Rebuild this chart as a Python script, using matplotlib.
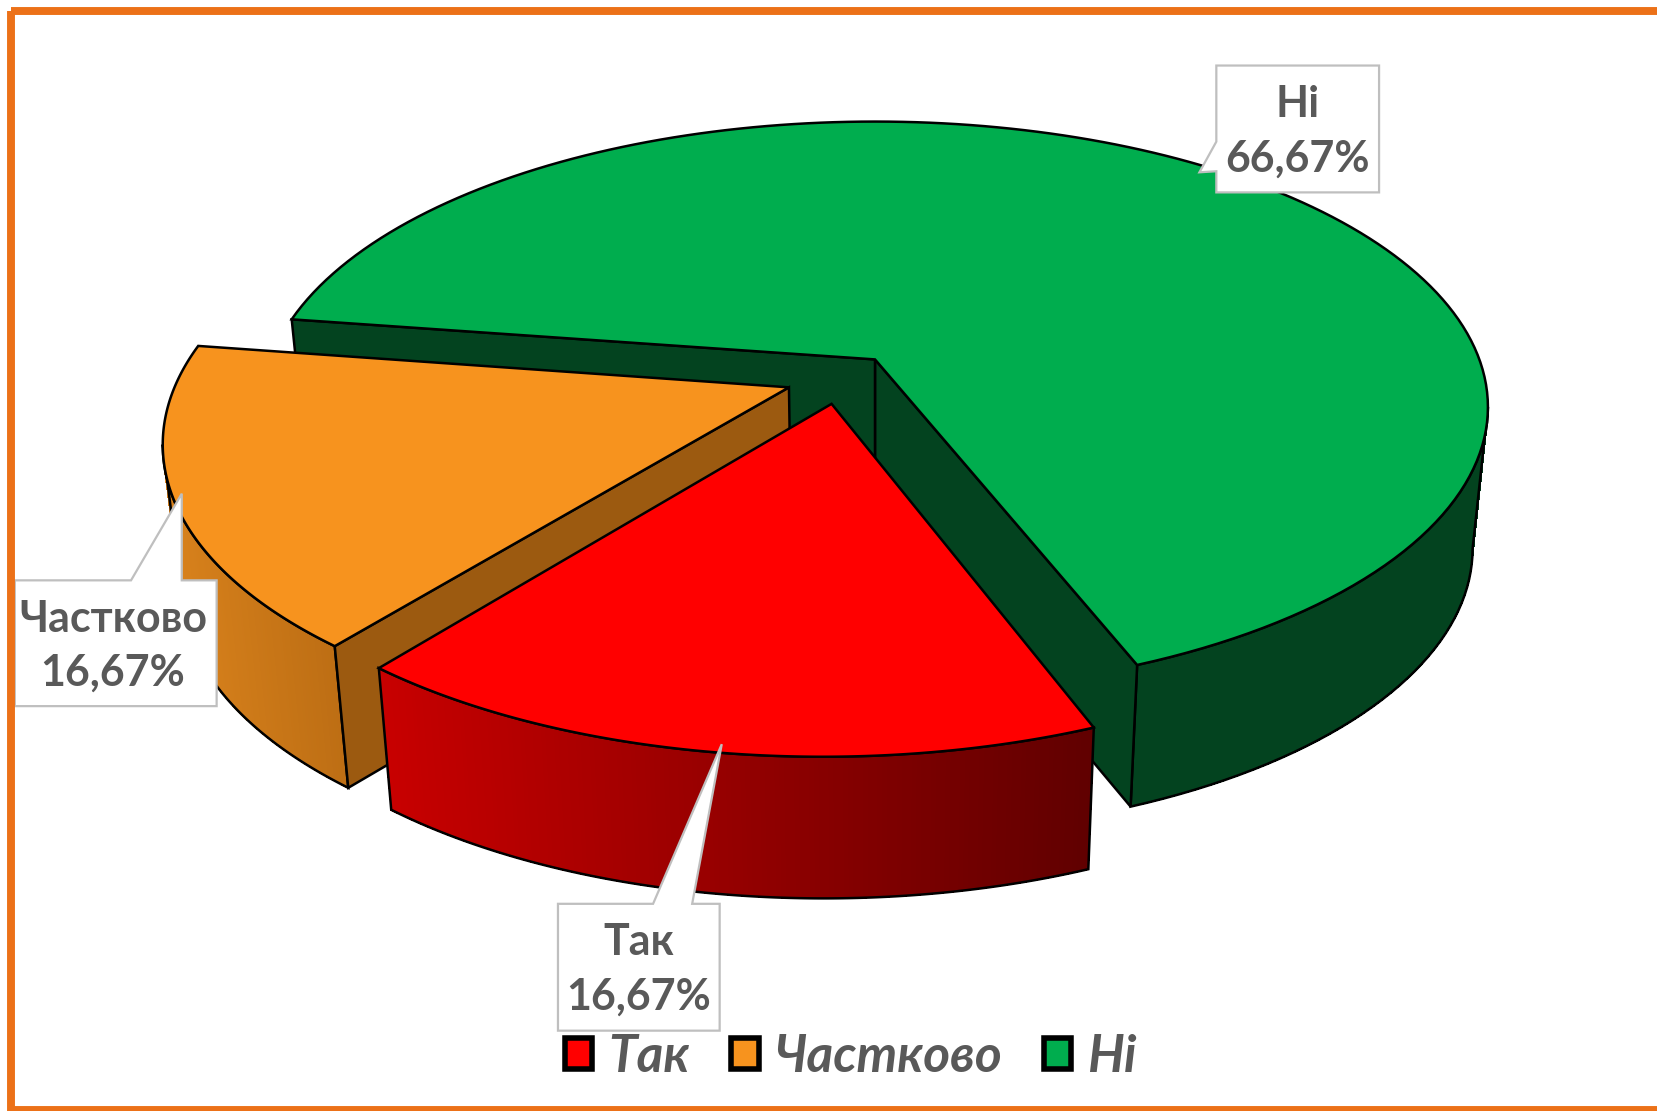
import numpy as np
import matplotlib
matplotlib.use('Agg')
import matplotlib.pyplot as plt
from matplotlib.patches import Polygon, Patch, Rectangle

# Data
categories = ['Так', 'Частково', 'Ні']
shares = [16.67, 16.67, 66.67]
share_labels = ['16,67%', '16,67%', '66,67%']

# Slice colours
top_colors = ['#FF0000', '#F7931E', '#00AD4E']
cut_colors = ['#8A0000', '#9C5A10', '#03431F']
wall_left = ['#C80000', '#D9821C', '#03431F']
wall_right = ['#600000', '#BD6E14', '#03431F']

# Pie geometry, in the units of the axes below
cx, cy = 828, 385
rx, ry = 580, 270
tilt = -1 / 6
start_angle = 158.5
depth = 134
squeeze = 0.975
explode = [(-0.070, 0.156), (-0.140, 0.099), (0.0, 0.0)]

text_color = '#595959'
font = 'Lato'


def project(px, py):
    # perspective of the pie plane, unit circle to the tilted ellipse
    d = 1 + tilt * py
    u = px * np.sqrt(1 - tilt ** 2) / d
    v = (py + tilt) / d
    return cx + rx * u, cy + ry * v


def arc(a0, a1, off):
    t = np.radians(np.linspace(a0, a1, 160))
    return project(off[0] + np.sin(t), off[1] - np.cos(t))


def lower(x, y):
    return cx + (np.asarray(x) - cx) * squeeze, np.asarray(y) + depth


def to_rgb(c):
    return np.array(matplotlib.colors.to_rgb(c))


fig = plt.figure(figsize=(16.57, 11.11), dpi=100)
ax = fig.add_axes([0, 0, 1, 1])
ax.set_xlim(0, 1568)
ax.set_ylim(1051, 0)
ax.axis('off')

# Frame, open on the right
frame = '#EC7118'
ax.add_patch(Rectangle((10.5, 10.5), 1600, 1040, fill=False, edgecolor=frame, lw=5.7, zorder=70))

# angles of each slice from the shares
total = sum(shares)
angles = [start_angle]
for s in shares:
    angles.append(angles[-1] + 360 * s / total)

# the big slice goes first, the exploded ones sit in front of it
z = 2
for i in [2, 1, 0]:
    a0, a1 = angles[i], angles[i + 1]
    off = explode[i]
    x, y = arc(a0, a1, off)
    bx, by = lower(x, y)
    ax0, ay0 = project(off[0], off[1])
    bax, bay = lower(ax0, ay0)

    # part of the outer wall that faces the viewer
    if i == 2:
        keep = np.arange(np.argmax(x), len(x))
    elif i == 1:
        keep = np.arange(0, np.argmin(x) + 1)
    else:
        keep = np.arange(len(x))
    wx, wy, wbx, wby = x[keep], y[keep], bx[keep], by[keep]

    # thin strips for the gradient
    for j in range(len(wx) - 1):
        f = (wx[j] - x.min()) / (x.max() - x.min())
        col = to_rgb(wall_left[i]) * (1 - f) + to_rgb(wall_right[i]) * f
        ax.add_patch(Polygon([(wx[j], wy[j]), (wx[j + 1], wy[j + 1]), (wbx[j + 1], wby[j + 1]), (wbx[j], wby[j])],
                             facecolor=col, edgecolor=col, lw=0.5, antialiased=False, zorder=z))
    z += 1
    ax.add_patch(Polygon(np.r_[np.c_[wx, wy], np.c_[wbx, wby][::-1]], fill=False,
                         edgecolor='black', lw=1.8, zorder=z))
    z += 1

    # cut walls, only those that face the viewer
    if i == 2:
        for k in [-1, 0]:
            ax.add_patch(Polygon([(ax0, ay0), (x[k], y[k]), (bx[k], by[k]), (bax, bay)],
                                 facecolor=cut_colors[i], edgecolor='black', lw=1.8, zorder=z))
            z += 1
    if i == 1:
        ax.add_patch(Polygon([(ax0, ay0), (x[0], y[0]), (bx[0], by[0]), (bax, bay)],
                             facecolor=cut_colors[i], edgecolor='black', lw=1.8, zorder=z))
        z += 1

    # top face
    ax.add_patch(Polygon(np.r_[[(ax0, ay0)], np.c_[x, y]], facecolor=top_colors[i],
                         edgecolor='black', lw=1.8, joinstyle='miter', zorder=z))
    z += 1

# Callouts
callouts = [
    [(528, 855), (618, 855), (683, 704), (655, 855), (681, 855), (681, 975), (528, 975)],
    [(14, 549), (124, 549), (172, 467), (172, 549), (205, 549), (205, 668), (14, 668)],
    [(1151, 62), (1305, 62), (1305, 182), (1151, 182), (1151, 162), (1135, 163), (1151, 134)],
]
label_pos = [(604, 917), (107, 611), (1228, 124)]
for i in range(3):
    ax.add_patch(Polygon(callouts[i], facecolor='white', edgecolor='#BFBFBF', lw=1.6,
                         joinstyle='miter', zorder=50))
    ax.text(label_pos[i][0], label_pos[i][1], categories[i] + '\n' + share_labels[i],
            family=font, weight='bold', fontsize=31, color=text_color,
            ha='center', va='center', linespacing=1.44, zorder=51)

# Legend
handles = [Patch(facecolor=c, edgecolor='black', lw=4, joinstyle='round') for c in top_colors]
leg = ax.legend(handles, categories, ncol=3, loc='center', bbox_to_anchor=(805 / 1568, 1 - 1000 / 1051),
                frameon=False, handlelength=0.53, handleheight=0.53, handletextpad=0.3,
                columnspacing=0.82, borderpad=0, prop={'family': font, 'style': 'italic', 'weight': 'bold', 'size': 37})
leg.set_zorder(60)
for t in leg.get_texts():
    t.set_color(text_color)

fig.savefig('out.png', dpi=100)
